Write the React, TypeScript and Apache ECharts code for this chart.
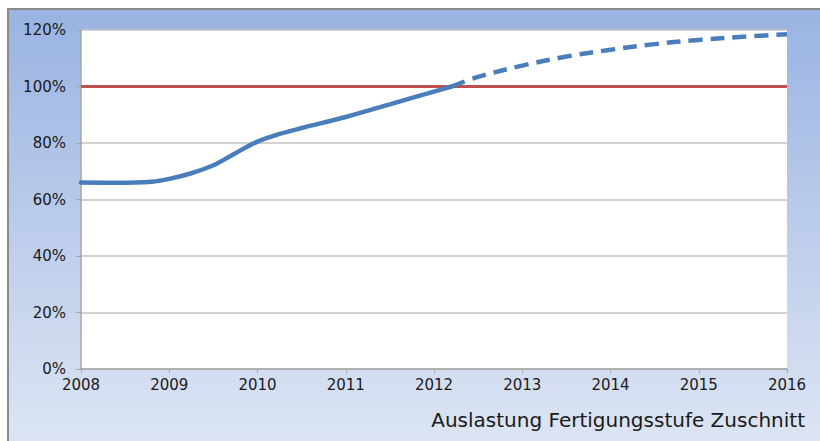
import React, { useEffect, useRef } from "react";
import * as echarts from "echarts";

const yearTicks = [2008, 2009, 2010, 2011, 2012, 2013, 2014, 2015, 2016];
const actualYears = [2008, 2008.4, 2008.8, 2009, 2009.25, 2009.5, 2009.75, 2010, 2010.25, 2010.5, 2011, 2011.5, 2012, 2012.2];
const actualValues = [66, 65.9, 66.3, 67.3, 69.3, 72.1, 76.4, 80.5, 83.2, 85.3, 89.2, 93.7, 98.2, 100];
const forecastYears = [2012.2, 2012.5, 2013, 2013.5, 2014, 2014.5, 2015, 2015.5, 2016];
const forecastValues = [100, 103.4, 107.4, 110.6, 113, 115, 116.5, 117.6, 118.5];
const capacityYears = [2008, 2016];
const capacityValues = [100, 100];
const yTicks = [0, 20, 40, 60, 80, 100, 120];
const chartTitle = "Auslastung Fertigungsstufe Zuschnitt";

const zip = (xs: number[], ys: number[]) => xs.map((x, i) => [x, ys[i]]);

export default function App() {
  const ref = useRef<HTMLDivElement>(null);
  useEffect(() => {
    document.body.style.margin = "0";
    const chart = echarts.init(ref.current!, null, { renderer: "svg" });
    const font = "DejaVu Sans";
    chart.setOption({
      animation: false,
      graphic: [
        {
          type: "rect",
          z: -10,
          shape: { x: 8, y: 9, width: 840, height: 460 },
          style: {
            fill: new echarts.graphic.LinearGradient(0, 0, 0, 1, [
              { offset: 0, color: "#99B3E2" },
              { offset: 1, color: "#E1E8F4" },
            ]),
            stroke: "#8A8A8A",
            lineWidth: 2,
          },
        },
        {
          type: "text",
          right: 15,
          top: 410,
          style: {
            text: chartTitle,
            font: `20px "${font}"`,
            fill: "#1a1a1a",
          },
        },
      ],
      grid: {
        left: 81,
        top: 30,
        right: 33,
        bottom: 72,
        show: true,
        backgroundColor: "#ffffff",
        borderWidth: 0,
      },
      xAxis: {
        type: "value",
        min: 2008,
        max: 2016,
        interval: 1,
        axisLine: { show: true, lineStyle: { color: "#A6A6A6", width: 1.5 } },
        axisTick: { show: true, length: 4, lineStyle: { color: "#A6A6A6" } },
        splitLine: { show: false },
        axisLabel: {
          color: "#1a1a1a",
          fontFamily: font,
          fontSize: 15,
          margin: 8,
          formatter: (v: number) => (yearTicks.includes(v) ? String(v) : ""),
        },
      },
      yAxis: {
        type: "value",
        min: 0,
        max: 120,
        interval: 20,
        axisLine: { show: true, lineStyle: { color: "#A6A6A6", width: 1.5 } },
        axisTick: { show: true, length: 5, lineStyle: { color: "#A6A6A6" } },
        splitLine: { show: true, lineStyle: { color: "#C4C4C4", width: 1.5 } },
        axisLabel: {
          color: "#1a1a1a",
          fontFamily: font,
          fontSize: 15,
          margin: 15,
          formatter: (v: number) => (yTicks.includes(v) ? v + "%" : ""),
        },
      },
      series: [
        {
          type: "line",
          data: zip(capacityYears, capacityValues),
          symbol: "none",
          lineStyle: { color: "#C0504D", width: 3 },
          z: 2,
        },
        {
          type: "line",
          data: zip(actualYears, actualValues),
          symbol: "none",
          smooth: 0.35,
          lineStyle: { color: "#4A7EBB", width: 4.5, cap: "round" },
          z: 3,
        },
        {
          type: "line",
          data: zip(forecastYears, forecastValues),
          symbol: "none",
          smooth: 0.35,
          lineStyle: { color: "#4A7EBB", width: 4.5, type: [14, 8] },
          z: 3,
        },
      ],
    });
    return () => chart.dispose();
  }, []);
  return <div ref={ref} style={{ width: 820, height: 441 }} />;
}
